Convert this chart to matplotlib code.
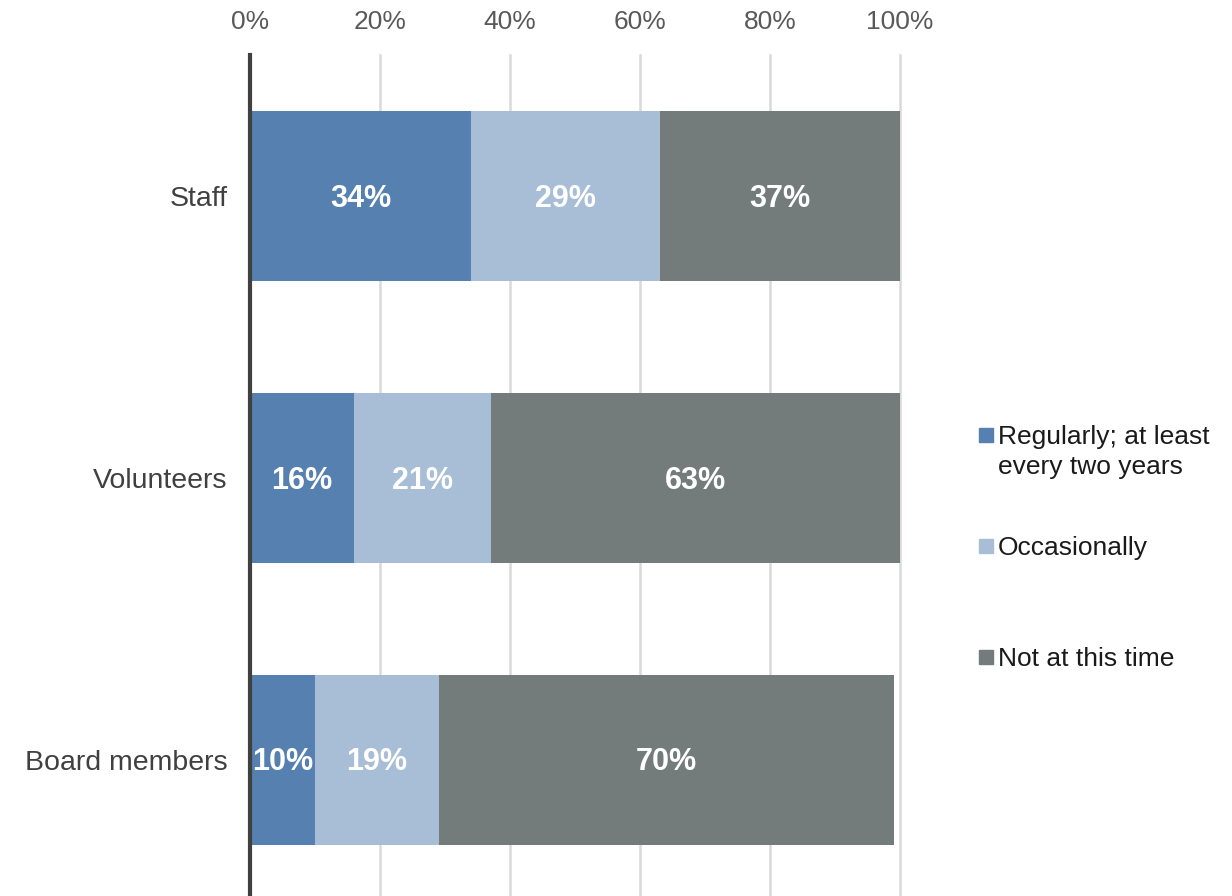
import matplotlib.pyplot as plt
from matplotlib.patches import Rectangle
import numpy as np

plt.rcParams['font.family'] = ['Liberation Sans', 'DejaVu Sans']

groups = ['Staff', 'Volunteers', 'Board members']
series = ['Regularly; at least\nevery two years', 'Occasionally', 'Not at this time']
regularly = [34, 16, 10]
occasionally = [29, 21, 19]
not_now = [37, 63, 70]
colors = ['#5580B0', '#A8BDD6', '#737B7B']

values = np.array([regularly, occasionally, not_now], dtype=float)

fig = plt.figure(figsize=(12.32, 8.96), dpi=100)
ax = fig.add_axes([250 / 1232, -0.005, 650 / 1232, 1 - 55 / 896 + 0.005])

y = np.arange(len(groups))
left = np.zeros(len(groups))
for vals, col in zip(values, colors):
    bars = ax.barh(y, vals, left=left, height=0.603, color=col, zorder=3)
    for b, v in zip(bars, vals):
        ax.text(b.get_x() + b.get_width() / 2, b.get_y() + b.get_height() / 2 + 0.01,
                f'{v:.0f}%', ha='center', va='center', color='white',
                fontsize=22, fontweight='bold', zorder=4)
    left += vals

ax.set_xlim(0, 100)
ax.set_ylim(2.5, -0.5)
ax.set_xticks(np.arange(0, 101, 20))
ax.set_xticklabels([f'{t}%' for t in range(0, 101, 20)])
ax.xaxis.tick_top()
ax.tick_params(axis='x', length=0, pad=15, labelsize=19, labelcolor='#595959')
ax.tick_params(axis='y', length=0, pad=16, labelsize=20.5, labelcolor='#404040')
ax.set_yticks(y)
ax.set_yticklabels(groups)
ax.grid(axis='x', color='#D9D9D9', linewidth=1.8, zorder=0)
for gl in ax.get_xgridlines():
    gl.set_clip_on(False)
for s in ['top', 'right', 'bottom']:
    ax.spines[s].set_visible(False)
ax.spines['left'].set_color('#404040')
ax.spines['left'].set_linewidth(3)
ax.spines['left'].set_zorder(5)

# legend drawn by hand so the swatch sits on the first text line
W, H = 1232, 896
for i, (name, col) in enumerate(zip(series, colors)):
    yc = 435 + i * 111
    fig.add_artist(Rectangle((979 / W, 1 - (yc + 7) / H), 14 / W, 14 / H,
                             transform=fig.transFigure, color=col))
    fig.text(998 / W, 1 - (yc - 10) / H, name, ha='left', va='top',
             fontsize=19, color='#1a1a1a', linespacing=1.3)

fig.savefig('out.png', dpi=100)
